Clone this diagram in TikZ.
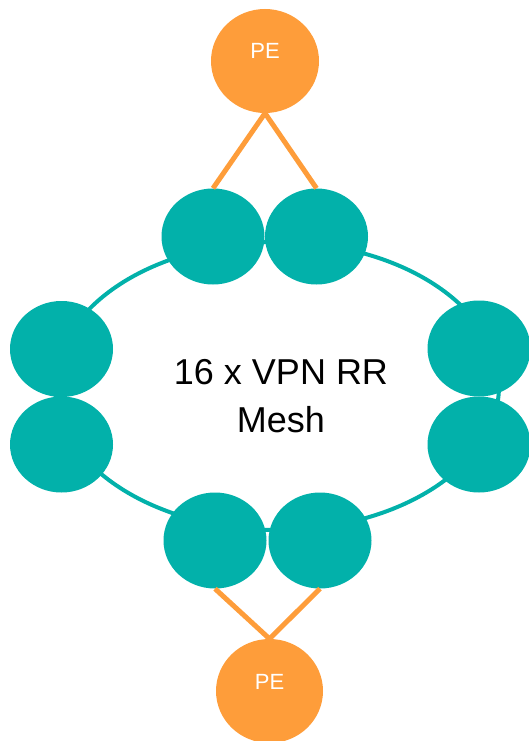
\documentclass[tikz,border=0pt]{standalone}
\usepackage{fontspec}
\setmainfont{Liberation Sans}
\usetikzlibrary{shapes.geometric}
\definecolor{teal1}{HTML}{02B1AA}
\definecolor{orange1}{HTML}{FE9D3A}
\begin{document}
\begin{tikzpicture}[x=1pt,y=-1pt,
  rr/.style={ellipse, fill=teal1, inner sep=0pt, minimum width=103pt, minimum height=96pt},
  pe/.style={ellipse, fill=orange1, inner sep=0pt, minimum width=108pt, minimum height=104pt,
    text=white, font=\fontsize{22}{26}\selectfont, text height=16pt, text depth=20pt},
  ring/.style={draw=teal1, line width=4pt},
  link/.style={draw=orange1, line width=5pt}]
\useasboundingbox (0,0) rectangle (529,741);
\draw[ring] (277,386) ellipse [x radius=222, y radius=144];
\node[rr] (t1) at (213,236.5) {};
\node[rr] (t2) at (316.5,236.5) {};
\node[rr] (l1) at (61.5,349) {};
\node[rr] (l2) at (61.5,444.5) {};
\node[rr] (r1) at (479,348.5) {};
\node[rr] (r2) at (479,444.5) {};
\node[rr] (b1) at (215,540.5) {};
\node[rr] (b2) at (320,540.5) {};
\node[pe] (pet) at (265,61) {PE};
\node[pe, minimum width=107pt] (peb) at (269.5,691) {PE};
\draw[link] (pet.south) -- (t1.north);
\draw[link] (pet.south) -- (t2.north);
\draw[link] (b1.south) -- (peb.north);
\draw[link] (b2.south) -- (peb.north);
\node[align=center, inner sep=0pt, anchor=base, font=\fontsize{36}{48.4}\selectfont] (lbl) at (281,432.7) {16 x VPN RR\\Mesh};
\end{tikzpicture}
\end{document}
